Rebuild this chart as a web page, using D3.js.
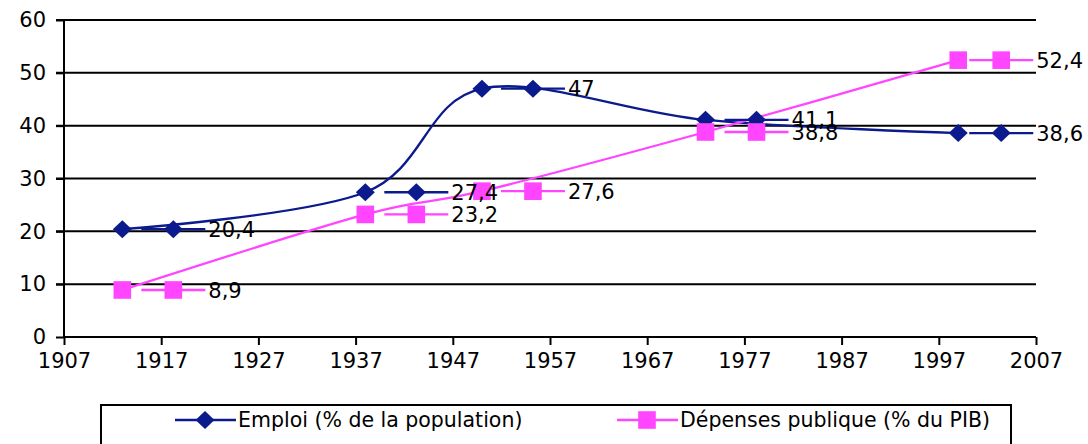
<!DOCTYPE html>
<html>
<head>
<meta charset="utf-8">
<script src="https://cdn.jsdelivr.net/npm/d3@7/dist/d3.min.js"></script>
<style>
  body { margin: 0; background: #fff; }
  text { font-family: "DejaVu Sans", Verdana, sans-serif; }
</style>
</head>
<body>
<div id="chart"></div>
<script>
// data
var years = [1913, 1938, 1950, 1973, 1999];
var emploi = [20.4, 27.4, 47, 41.1, 38.6];
var depenses = [8.9, 23.2, 27.6, 38.8, 52.4];
var xTicks = [1907, 1917, 1927, 1937, 1947, 1957, 1967, 1977, 1987, 1997, 2007];
var yTicks = [0, 10, 20, 30, 40, 50, 60];
var seriesNames = ['Emploi (% de la population)', 'Dépenses publique (% du PIB)'];

var W = 1088, H = 444;
var blue = '#0b1a8c', pink = '#ff45ff';

var svg = d3.select('#chart').append('svg')
  .attr('width', W)
  .attr('height', H);

var x = d3.scaleLinear().domain([1907, 2007]).range([64, 1036]);
var y = d3.scaleLinear().domain([0, 60]).range([337, 20]);

// gridlines (start at the tick so they read as one line)
svg.selectAll('.grid')
  .data(yTicks.filter(function(d){ return d > 0; }))
  .enter().append('line')
    .attr('class', 'grid')
    .attr('x1', 56).attr('x2', x(2007))
    .attr('y1', function(d){ return y(d); })
    .attr('y2', function(d){ return y(d); })
    .attr('stroke', '#000').attr('stroke-width', 2);

var yAxis = svg.append('g')
  .attr('transform', 'translate(64,0)')
  .call(d3.axisLeft(y).tickValues(yTicks).tickSize(8).tickPadding(10));
var xAxis = svg.append('g')
  .attr('transform', 'translate(0,337)')
  .call(d3.axisBottom(x).tickValues(xTicks).tickSize(8).tickPadding(8).tickFormat(d3.format('d')));

[yAxis, xAxis].forEach(function(a){
  a.select('.domain').attr('stroke', '#000').attr('stroke-width', 2);
  a.selectAll('.tick line').attr('stroke', '#000').attr('stroke-width', 2);
  a.selectAll('.tick text').attr('fill', '#000').style('font-size', '21px')
    .style('font-family', '"DejaVu Sans", Verdana, sans-serif');
});
yAxis.select('.domain').attr('d', 'M0,' + y(60) + 'V' + y(0));
xAxis.select('.domain').attr('d', 'M' + x(1907) + ',0H' + x(2007));

var series = [
  { name: seriesNames[0], values: emploi, color: blue, shape: 'diamond' },
  { name: seriesNames[1], values: depenses, color: pink, shape: 'square' }
];

var line = d3.line()
  .x(function(d){ return x(d[0]); })
  .y(function(d){ return y(d[1]); })
  .curve(d3.curveCardinal.tension(0));

function marker(g, s, cx, cy){
  var d = s.shape === 'diamond' ? 'M0,-9L9.5,0L0,9L-9.5,0Z' : 'M-8.8,-8.8H8.8V8.8H-8.8Z';
  g.append('path')
    .attr('d', d)
    .attr('transform', 'translate(' + cx + ',' + cy + ')')
    .attr('fill', s.color);
}

series.forEach(function(s){
  var pts = years.map(function(yr, i){ return [yr, s.values[i]]; });
  svg.append('path')
    .attr('d', line(pts))
    .attr('fill', 'none')
    .attr('stroke', s.color)
    .attr('stroke-width', 2.3);
  var g = svg.append('g');
  pts.forEach(function(p){ marker(g, s, x(p[0]), y(p[1])); });
});

// data labels with legend key, like Excel
series.forEach(function(s){
  var g = svg.append('g');
  years.forEach(function(yr, i){
    var px = x(yr), py = y(s.values[i]);
    var txt = String(s.values[i]).replace('.', ',');
    var t = g.append('text')
      .attr('y', py)
      .attr('dy', '0.36em')
      .style('font-size', '21px')
      .attr('fill', '#000')
      .text(txt);
    var tw = t.node().getComputedTextLength();
    var start = Math.min(px + 19, 1084 - (68 + tw));
    g.insert('line', 'text')
      .attr('x1', start).attr('x2', start + 64)
      .attr('y1', py).attr('y2', py)
      .attr('stroke', s.color).attr('stroke-width', 2.3);
    marker(g, s, start + 32, py);
    t.attr('x', start + 67);
    t.raise();
  });
});

// legend
var lg = svg.append('g');
lg.append('rect')
  .attr('x', 101).attr('y', 405)
  .attr('width', 910).attr('height', 60)
  .attr('fill', 'none').attr('stroke', '#000').attr('stroke-width', 2);
var legendX = [175, 617];
series.forEach(function(s, i){
  var lx = legendX[i], ly = 420;
  lg.append('line')
    .attr('x1', lx).attr('x2', lx + 61)
    .attr('y1', ly).attr('y2', ly)
    .attr('stroke', s.color).attr('stroke-width', 2.3);
  marker(lg, s, lx + 30, ly);
  lg.append('text')
    .attr('x', lx + 63).attr('y', ly)
    .attr('dy', '0.36em')
    .style('font-size', '20.5px')
    .text(s.name);
});
</script>
</body>
</html>
